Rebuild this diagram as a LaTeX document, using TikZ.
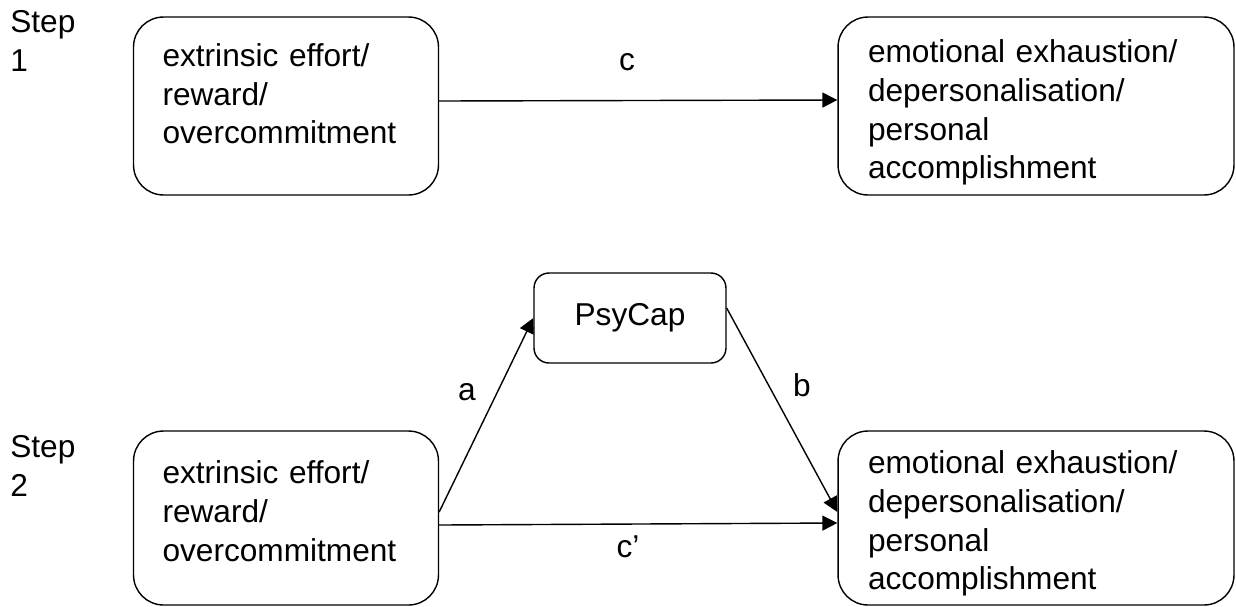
\documentclass[tikz,border=0pt]{standalone}
\usepackage{fontspec}
\setmainfont{Liberation Sans}
\usetikzlibrary{arrows.meta,calc}

\begin{document}
\begin{tikzpicture}[x=0.02cm,y=-0.02cm,
 font=\fontsize{18}{22}\selectfont,
 varbox/.style={draw,line width=0.8pt,rounded corners=0.6cm,minimum width=6.1cm,
 minimum height=3.56cm,inner xsep=0.58cm,inner ysep=0pt,text width=4.94cm,align=left},
 outbox/.style={varbox,minimum width=7.92cm,text width=6.72cm},
 medbox/.style={draw,line width=0.8pt,rounded corners=0.3cm,
 minimum width=3.84cm,minimum height=1.8cm},
 lift/.style={execute at end node={\rule[-#1]{0pt}{#1}}},
 sink/.style={execute at begin node={\rule{0pt}{#1}}},
 lbl/.style={inner sep=0pt},
 arr/.style={-{Triangle[length=8.5pt,width=8.5pt]},line width=0.8pt}]
 \useasboundingbox (0,0) rectangle (1236,606);
 \node[lbl,anchor=north west,align=left] (step1) at (10,10) {Step\\1};
 \node[varbox,lift=14pt] (eri1) at (286,106) {extrinsic effort/\\reward/\\overcommitment};
 \node[outbox,sink=20.5pt] (burn1) at (1036,106) {emotional exhaustion/\\depersonalisation/\\
 personal\\accomplishment};
 \node[lbl,anchor=north west,align=left] (step2) at (10,435) {Step\\2};
 \node[medbox] (psycap) at (630,318) {PsyCap};
 \node[varbox,lift=8pt,minimum height=3.48cm] (eri2) at (286,518)
 {extrinsic effort/\\reward/\\overcommitment};
 \node[outbox,sink=19.3pt,minimum height=3.48cm] (burn2) at (1036,518)
 {emotional exhaustion/\\depersonalisation/\\personal\\accomplishment};
 \node[lbl] (c) at (627,62) {c};
 \node[lbl] (a) at (467,392) {a};
 \node[lbl] (b) at (802,385) {b};
 \node[lbl] (cp) at (628,547) {c’};
 \draw[arr] ($(eri1.east)+(0,-5)$)--($(burn1.west)+(0,-6)$);
 \draw[arr] ($(eri2.east)+(0,-6)$)--(psycap.west);
 \draw[arr] ($(psycap.east)+(0,-10)$)--($(burn2.west)+(0,-6)$);
 \draw[arr] ($(eri2.east)+(0,7)$)--($(burn2.west)+(0,5)$);
\end{tikzpicture}
\end{document}
